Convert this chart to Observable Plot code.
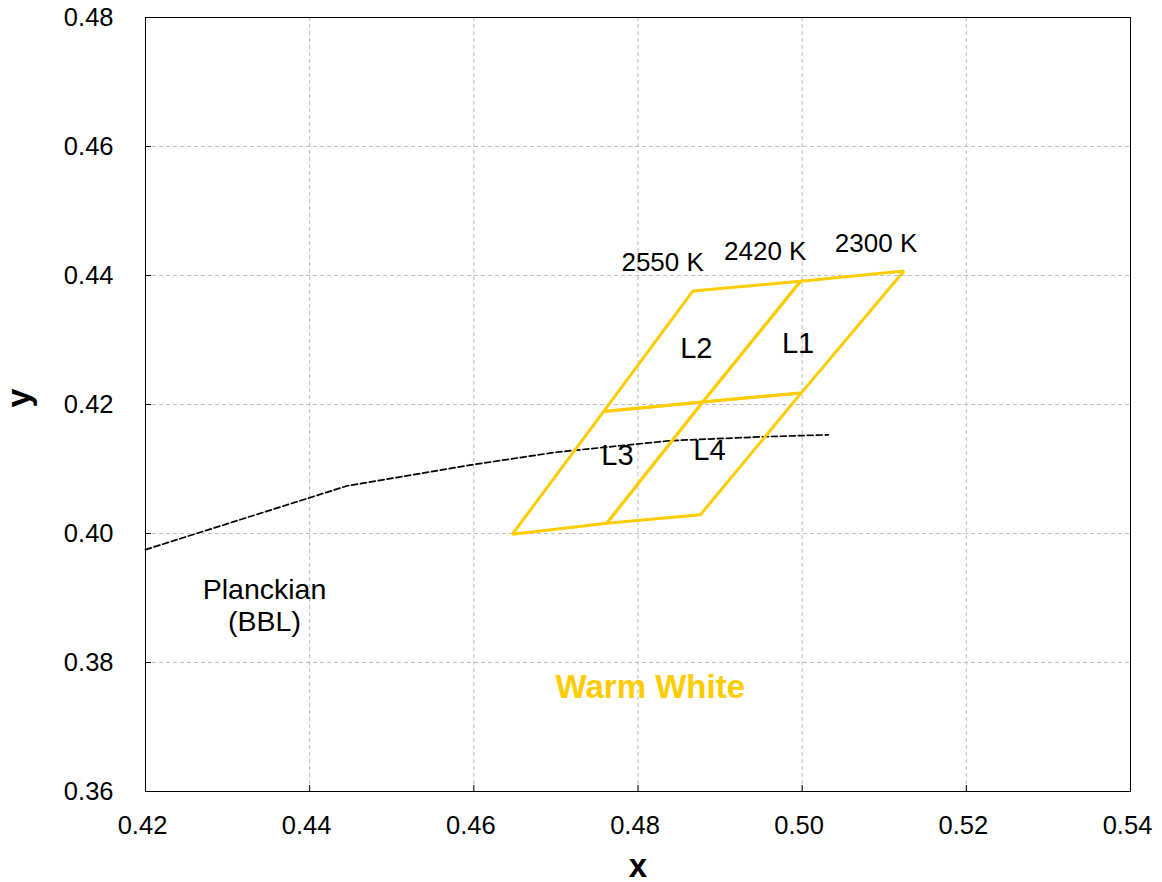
<!DOCTYPE html>
<html><head><meta charset="utf-8">
<script src="https://cdn.jsdelivr.net/npm/d3@7"></script>
<script src="https://cdn.jsdelivr.net/npm/@observablehq/plot@0.6"></script>
<style>body{margin:0;background:#fff}</style>
</head><body><div id="chart"></div>
<script>
const xTicks = [0.42, 0.44, 0.46, 0.48, 0.50, 0.52, 0.54];
const yTicks = [0.36, 0.38, 0.40, 0.42, 0.44, 0.46, 0.48];

// Planckian locus (BBL)
const planckX = [0.42, 0.4446, 0.46, 0.47, 0.484, 0.4953, 0.5032];
const planckY = [0.3975, 0.4074, 0.4107, 0.4126, 0.4144, 0.4150, 0.4153];

// Quadrangles (4 vertices each)
const quadNames = ["L1", "L2", "L3", "L4"];
const quadX = [
  [0.4998, 0.5124, 0.4999, 0.4879],
  [0.4867, 0.4998, 0.4879, 0.4758],
  [0.4758, 0.4879, 0.4762, 0.4647],
  [0.4879, 0.4999, 0.4876, 0.4762]
];
const quadY = [
  [0.4391, 0.4407, 0.4218, 0.4204],
  [0.4376, 0.4391, 0.4204, 0.4189],
  [0.4189, 0.4204, 0.4016, 0.3999],
  [0.4204, 0.4218, 0.4029, 0.4016]
];
const quadLabelX = [0.4995, 0.4871, 0.4775, 0.4887];
const quadLabelY = [0.4295, 0.4286, 0.4120, 0.4129];

const cctLabels = ["2550 K", "2420 K", "2300 K"];
const cctX = [0.4830, 0.4955, 0.5090];
const cctY = [0.4420, 0.4437, 0.4450];

const planckLabel = ["Planckian\n(BBL)"];
const planckLabelX = [0.4345];
const planckLabelY = [0.3890];
const groupLabel = ["Warm White"];
const groupLabelX = [0.4815];
const groupLabelY = [0.3762];

const yellow = "#ffcc00";
const W = 1162, H = 882, mt = 17, mr = 32, mb = 91, ml = 145;
const pw = W - ml - mr, ph = H - mt - mb;

const quadRows = quadNames.flatMap((q, i) => quadX[i].map((x, j) => ({q, x, y: quadY[i][j]})));
const planckRows = planckX.map((x, i) => ({x, y: planckY[i]}));
const fmt = d3.format(".2f");

const chart = Plot.plot({
  width: W, height: H,
  marginTop: mt, marginRight: mr, marginBottom: mb, marginLeft: ml,
  style: {fontFamily: "'Liberation Sans', Arial, sans-serif", background: "white", color: "black"},
  x: {domain: [0.42, 0.54]},
  y: {domain: [0.36, 0.48]},
  marks: [
    Plot.gridX(xTicks.slice(1, -1), {stroke: "#bdbdbd", strokeOpacity: 1, strokeDasharray: "4,3"}),
    Plot.gridY(yTicks.slice(1, -1), {stroke: "#bdbdbd", strokeOpacity: 1, strokeDasharray: "4,3"}),
    Plot.tickX(xTicks, {x: d => d, stroke: "black", insetTop: ph - 6}),
    Plot.tickY(yTicks, {y: d => d, stroke: "black", insetRight: pw - 6}),
    Plot.frame({stroke: "black"}),
    Plot.axisX(xTicks, {tickSize: 0, tickPadding: 24, fontSize: 25.5, tickFormat: fmt, label: null, dx: -3}),
    Plot.axisY(yTicks, {tickSize: 0, tickPadding: 32, fontSize: 25.5, tickFormat: fmt, label: null}),
    Plot.line(planckRows, {x: "x", y: "y", stroke: "black", strokeWidth: 1.7, strokeDasharray: "6,3"}),
    Plot.line(quadRows, {x: "x", y: "y", z: "q", stroke: yellow, strokeWidth: 3, curve: "linear-closed", strokeLinejoin: "miter"}),
    Plot.text(quadNames, {x: (d, i) => quadLabelX[i], y: (d, i) => quadLabelY[i], text: d => d, fontSize: 29, fill: "black"}),
    Plot.text(cctLabels, {x: (d, i) => cctX[i], y: (d, i) => cctY[i], text: d => d, fontSize: 26, fill: "black"}),
    Plot.text(planckLabel, {x: (d, i) => planckLabelX[i], y: (d, i) => planckLabelY[i], text: d => d, fontSize: 28.5, lineHeight: 1.13, fill: "black"}),
    Plot.text(groupLabel, {x: (d, i) => groupLabelX[i], y: (d, i) => groupLabelY[i], text: d => d, fontSize: 33, fontWeight: "bold", fill: yellow}),
    Plot.text(["x"], {frameAnchor: "bottom", lineAnchor: "bottom", dy: 85, text: d => d, fontSize: 33, fontWeight: "bold", fill: "black"}),
    Plot.text(["y"], {frameAnchor: "left", dx: -126, dy: 3, rotate: -90, text: d => d, fontSize: 34, fontWeight: "bold", fill: "black"})
  ]
});
document.getElementById("chart").appendChild(chart);
</script>
</body></html>
